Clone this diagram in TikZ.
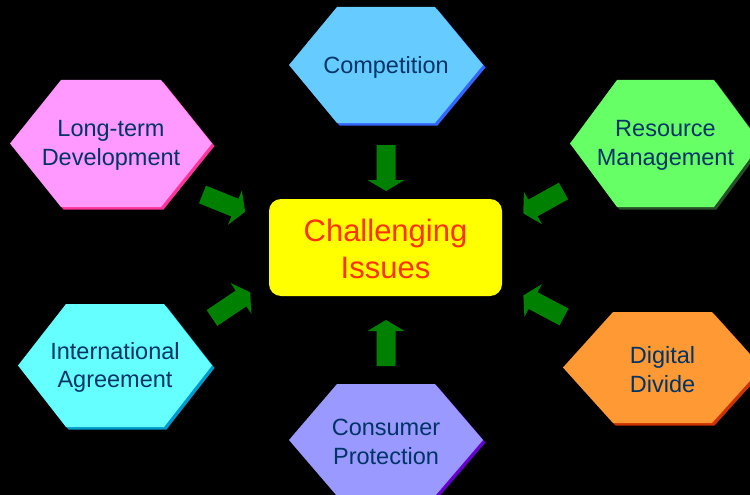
\documentclass[tikz,border=0pt]{standalone}
\usepackage{fontspec}
\setmainfont{Liberation Sans}
\definecolor{hextextcol}{RGB}{0,51,102}
\definecolor{arrowgreen}{RGB}{0,128,0}
\definecolor{compfill}{RGB}{102,204,255}
\definecolor{compshadow}{RGB}{51,102,255}
\definecolor{longfill}{RGB}{255,153,255}
\definecolor{longshadow}{RGB}{255,51,153}
\definecolor{resfill}{RGB}{102,255,102}
\definecolor{resshadow}{RGB}{40,80,40}
\definecolor{intfill}{RGB}{102,255,255}
\definecolor{intshadow}{RGB}{0,153,204}
\definecolor{digfill}{RGB}{255,153,51}
\definecolor{digshadow}{RGB}{204,51,0}
\definecolor{consfill}{RGB}{153,153,255}
\definecolor{consshadow}{RGB}{102,0,204}
\definecolor{boxfill}{RGB}{255,255,0}
\definecolor{boxtext}{RGB}{255,51,0}
\tikzset{
  hextext/.style={text=hextextcol, font=\fontsize{23.5}{28.5}\selectfont, align=center, inner sep=0pt},
  centerbox/.style={fill=boxfill, text=boxtext, rounded corners=12pt, minimum width=233pt, minimum height=97pt,
    font=\fontsize{31}{37}\selectfont, align=center, inner sep=0pt},
  blockarrow/.pic={\fill[arrowgreen] (0,-9.5) -- (35,-9.5) -- (35,-18.5) -- (46,0) -- (35,18.5) -- (35,9.5) -- (0,9.5) -- cycle;}
}
% name, cx, cy, half width, half height, half flat, fill, shadow, text
\newcommand\hexagonbox[9]{%
  \begin{scope}[shift={(#2,#3)}]
    \fill[#8, shift={(2.5,2.5)}] (-#4,0) -- (-#6,-#5) -- (#6,-#5) -- (#4,0) -- (#6,#5) -- (-#6,#5) -- cycle;
    \fill[#7] (-#4,0) -- (-#6,-#5) -- (#6,-#5) -- (#4,0) -- (#6,#5) -- (-#6,#5) -- cycle;
    \node[hextext] (#1) at (0,2) {#9};
  \end{scope}}
\begin{document}
\begin{tikzpicture}[x=1pt,y=-1pt]
  \fill[black] (0,0) rectangle (750,495);
  \useasboundingbox (0,0) rectangle (750,495);
  \clip (0,0) rectangle (750,495);
  \hexagonbox{comp}{386}{65}{97}{58}{49}{compfill}{compshadow}{Competition}
  \hexagonbox{long}{111}{143.5}{101}{63.5}{50}{longfill}{longshadow}{Long-term\\Development}
  \hexagonbox{res}{665.5}{143.5}{95.5}{63.5}{48.5}{resfill}{resshadow}{Resource\\Management}
  \hexagonbox{intl}{115}{365.5}{97}{61.5}{49}{intfill}{intshadow}{International\\Agreement}
  \hexagonbox{dig}{662.5}{367.5}{99.5}{55.5}{49.5}{digfill}{digshadow}{Digital\\Divide}
  \hexagonbox{cons}{386}{440}{97}{56}{49}{consfill}{consshadow}{Consumer\\Protection}
  \node[centerbox] (issues) at (385.5,247.5) {};
  \node[text=boxtext, font=\fontsize{31}{37}\selectfont, align=center, inner sep=0pt] (issuestext) at (385.5,249) {Challenging\\Issues};
  \pic (arrowtop) [rotate=-90] at (386,145) {blockarrow};
  \pic (arrowbottom) [rotate=90] at (386,366) {blockarrow};
  \pic (arrowlt) [rotate=-22] at (202.5,194.5) {blockarrow};
  \pic (arrowlb) [rotate=34] at (212,318) {blockarrow};
  \pic (arrowrt) [rotate=-151] at (563.5,191) {blockarrow};
  \pic (arrowrb) [rotate=152] at (564,317) {blockarrow};
\end{tikzpicture}
\end{document}
